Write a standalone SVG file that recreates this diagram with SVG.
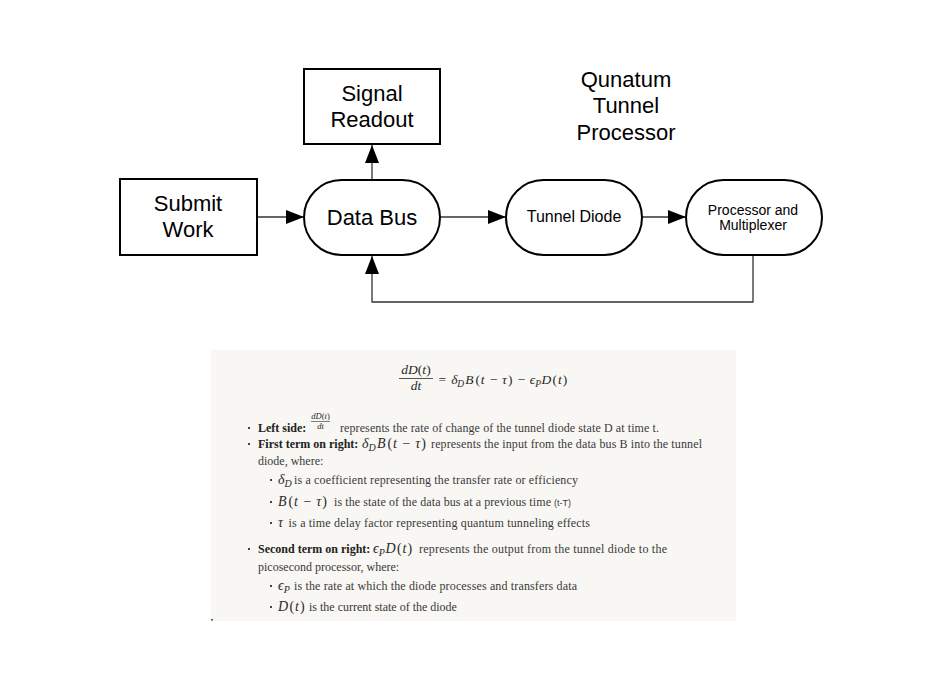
<svg xmlns="http://www.w3.org/2000/svg" width="934" height="686" viewBox="0 0 934 686">
<defs>
<style>
.node{fill:#fff;stroke:#000;stroke-width:2}
.lbl{font-family:"Liberation Sans",Arial,sans-serif;fill:#000;text-anchor:middle}
.big{font-size:22px}
.conn{fill:none;stroke:#333;stroke-width:1.3}
.tx{font-family:"Liberation Serif","Times New Roman",serif;font-size:12px;fill:#3a3a3a}
.b{font-weight:bold;fill:#222}
.m{font-family:"Liberation Serif","DejaVu Serif",serif;font-style:italic;fill:#2a2a2a}
.r{font-family:"Liberation Serif","DejaVu Serif",serif;font-style:normal;fill:#2a2a2a}
.dot{fill:#444}
</style>
<marker id="ah" viewBox="0 0 18 14" refX="18" refY="7" markerWidth="18" markerHeight="14" markerUnits="userSpaceOnUse" orient="auto">
<path d="M0,0 L18,7 L0,14 Z" fill="#000"/>
</marker>
</defs>
<rect width="934" height="686" fill="#fff"/>

<g id="title">
<text class="lbl big" x="626" y="87">Qunatum</text>
<text class="lbl big" x="626" y="113">Tunnel</text>
<text class="lbl big" x="626" y="140">Processor</text>
</g>

<g id="connectors">
<line class="conn" x1="257" y1="217" x2="304" y2="217" marker-end="url(#ah)"/>
<line class="conn" x1="372" y1="180" x2="372" y2="145" marker-end="url(#ah)"/>
<line class="conn" x1="440" y1="217" x2="506" y2="217" marker-end="url(#ah)"/>
<line class="conn" x1="642" y1="217" x2="686" y2="217" marker-end="url(#ah)"/>
<polyline class="conn" points="753,255 753,302 372,302 372,256" marker-end="url(#ah)"/>
</g>

<g id="signal-readout">
<rect class="node" x="304" y="69" width="136" height="75"/>
<text class="lbl big" x="372" y="101">Signal</text>
<text class="lbl big" x="372" y="127">Readout</text>
</g>
<g id="submit-work">
<rect class="node" x="120" y="179" width="137" height="76"/>
<text class="lbl big" x="188" y="211">Submit</text>
<text class="lbl big" x="188" y="237">Work</text>
</g>
<g id="data-bus">
<rect class="node" x="304" y="180" width="136" height="75" rx="37.5" ry="37.5"/>
<text class="lbl big" x="372" y="225">Data Bus</text>
</g>
<g id="tunnel-diode">
<rect class="node" x="506" y="180" width="136" height="75" rx="37.5" ry="37.5"/>
<text class="lbl" font-size="16" x="574" y="222">Tunnel Diode</text>
</g>
<g id="processor-multiplexer">
<rect class="node" x="686" y="180" width="136" height="75" rx="37.5" ry="37.5"/>
<text class="lbl" font-size="14" x="753" y="215">Processor and</text>
<text class="lbl" font-size="14" x="753" y="230">Multiplexer</text>
</g>

<g id="equation-panel">
<rect x="211" y="350" width="525" height="271" fill="#f8f7f3"/>
<rect x="211" y="619" width="2" height="1.5" fill="#555"/>

<!-- main equation -->
<text class="m" font-size="13.5" x="416" y="374" text-anchor="middle">dD<tspan class="r">(</tspan>t<tspan class="r">)</tspan></text>
<line x1="399" y1="378.5" x2="433" y2="378.5" stroke="#2a2a2a" stroke-width="0.8"/>
<text class="m" font-size="13.5" x="416" y="390" text-anchor="middle">dt</text>
<text class="r" font-size="13.5" x="438.5" y="384">=</text>
<text class="m" font-size="13.5" x="451.3" y="384">δ</text>
<text class="m" font-size="9.5" x="457.3" y="386.5">D</text>
<text class="m" font-size="13.5" x="465.2" y="384">B</text>
<text class="r" font-size="13.5" x="475.4" y="384">(</text>
<text class="m" font-size="13.5" x="480.7" y="384">t</text>
<text class="r" font-size="13.5" x="490" y="384">−</text>
<text class="m" font-size="13.5" x="502.1" y="384">τ</text>
<text class="r" font-size="13.5" x="508" y="384">)</text>
<text class="r" font-size="13.5" x="517.7" y="384">−</text>
<text class="m" font-size="13.5" x="529.8" y="384">ϵ</text>
<text class="m" font-size="9.5" x="535.3" y="386.5">P</text>
<text class="m" font-size="13.5" x="541.4" y="384">D</text>
<text class="r" font-size="13.5" x="552.6" y="384">(</text>
<text class="m" font-size="13.5" x="557.9" y="384">t</text>
<text class="r" font-size="13.5" x="562.8" y="384">)</text>

<!-- bullets level 1 -->
<rect class="dot" x="248" y="427" width="2" height="2"/>
<rect class="dot" x="248" y="443" width="2" height="2"/>
<rect class="dot" x="248" y="548" width="2" height="2"/>
<!-- bullets level 2 -->
<rect class="dot" x="270" y="479" width="2" height="2"/>
<rect class="dot" x="270" y="501" width="2" height="2"/>
<rect class="dot" x="270" y="522" width="2" height="2"/>
<rect class="dot" x="270" y="585" width="2" height="2"/>
<rect class="dot" x="270" y="606" width="2" height="2"/>

<!-- line 1 -->
<text class="tx b" x="258" y="432">Left side:</text>
<text class="m" font-size="8.5" x="320.5" y="419" text-anchor="middle">dD<tspan class="r">(</tspan>t<tspan class="r">)</tspan></text>
<line x1="311" y1="421.5" x2="330" y2="421.5" stroke="#2a2a2a" stroke-width="0.6"/>
<text class="m" font-size="8.5" x="320.5" y="429" text-anchor="middle">dt</text>
<text class="tx" x="340" y="432" textLength="319" lengthAdjust="spacing">represents the rate of change of the tunnel diode state D at time t.</text>

<!-- line 2 -->
<text class="tx b" x="258" y="448">First term on right:</text>
<text class="m" font-size="14" x="362" y="448">δ</text>
<text class="m" font-size="10" x="368.4" y="450.5">D</text>
<text class="m" font-size="14" x="377" y="448">B</text>
<text class="r" font-size="14" x="387.6" y="448">(</text>
<text class="m" font-size="14" x="393" y="448">t</text>
<text class="r" font-size="14" x="402.6" y="448">−</text>
<text class="m" font-size="14" x="415.2" y="448">τ</text>
<text class="r" font-size="14" x="421.3" y="448">)</text>
<text class="tx" x="431" y="448" textLength="271" lengthAdjust="spacing">represents the input from the data bus B into the tunnel</text>
<text class="tx" x="258" y="465">diode, where:</text>

<!-- sub bullets -->
<text class="m" font-size="14" x="278" y="484">δ</text>
<text class="m" font-size="10" x="284.4" y="486.5">D</text>
<text class="tx" x="294" y="484" textLength="284" lengthAdjust="spacing">is a coefficient representing the transfer rate or efficiency</text>

<text class="m" font-size="14" x="278" y="506">B</text>
<text class="r" font-size="14" x="288.6" y="506">(</text>
<text class="m" font-size="14" x="294" y="506">t</text>
<text class="r" font-size="14" x="303.6" y="506">−</text>
<text class="m" font-size="14" x="316.2" y="506">τ</text>
<text class="r" font-size="14" x="322.3" y="506">)</text>
<text class="tx" x="334" y="506" textLength="217" lengthAdjust="spacing">is the state of the data bus at a previous time</text>
<text x="554" y="505.5" font-family="Liberation Sans,Arial,sans-serif" font-size="9" fill="#3a3a3a">(t-T)</text>

<text class="m" font-size="14" x="278" y="527">τ</text>
<text class="tx" x="288.6" y="527" textLength="301.4" lengthAdjust="spacing">is a time delay factor representing quantum tunneling effects</text>

<!-- line second term -->
<text class="tx b" x="258" y="553">Second term on right:</text>
<text class="m" font-size="14" x="373" y="553">ϵ</text>
<text class="m" font-size="10" x="378.8" y="555.5">P</text>
<text class="m" font-size="14" x="385.5" y="553">D</text>
<text class="r" font-size="14" x="397" y="553">(</text>
<text class="m" font-size="14" x="402.4" y="553">t</text>
<text class="r" font-size="14" x="407.4" y="553">)</text>
<text class="tx" x="419" y="553" textLength="248" lengthAdjust="spacing">represents the output from the tunnel diode to the</text>
<text class="tx" x="258" y="571">picosecond processor, where:</text>

<text class="m" font-size="14" x="278" y="590">ϵ</text>
<text class="m" font-size="10" x="283.8" y="592.5">P</text>
<text class="tx" x="294" y="590" textLength="283" lengthAdjust="spacing">is the rate at which the diode processes and transfers data</text>

<text class="m" font-size="14" x="278" y="611">D</text>
<text class="r" font-size="14" x="289.5" y="611">(</text>
<text class="m" font-size="14" x="294.9" y="611">t</text>
<text class="r" font-size="14" x="299.9" y="611">)</text>
<text class="tx" x="309" y="611">is the current state of the diode</text>
</g>
</svg>
